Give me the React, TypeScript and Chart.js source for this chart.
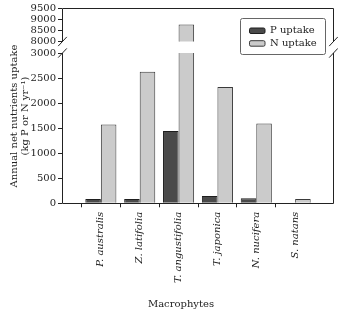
import React, { useEffect, useRef } from 'react';
import { Chart, registerables } from 'chart.js';

Chart.register(...registerables);

// Macrophyte species and their annual net uptake (kg P or N per year)
const species = ['P. australis', 'Z. latifolia', 'T. angustifolia', 'T. japonica', 'N. nucifera', 'S. natans'];
const pUptake = [85, 85, 1445, 145, 100, 0];
const nUptake = [1575, 2625, 8760, 2320, 1595, 85];

// Broken y-axis: lower and upper segments
const lowerRange = [0, 3000];
const upperRange = [8000, 9500];
const tickStep = 500;

const seriesNames = ['P uptake', 'N uptake'];
const xTitle = 'Macrophytes';
const yTitleLines = ['Annual net nutrients uptake', '(kg P or N yr\u207B\u00B9)'];

const W = 338;
const H = 309;
const FONT = '"DejaVu Serif", serif';
const INK = '#222';
const P_FILL = '#4a4a4a';
const P_EDGE = '#1e1e1e';
const N_FILL = '#cbcbcb';
const N_EDGE = '#3a3a3a';

// Category labels padded with an empty slot on each side so the axis spans -1..6
const paddedLabels = ['', ...species, ''];
const pad = (arr: (number | null)[]) => [null, ...arr, null];

function breakMark(ctx: CanvasRenderingContext2D, x: number, y: number) {
  ctx.beginPath();
  ctx.moveTo(x - 4.3, y + 4.6);
  ctx.lineTo(x + 4.3, y - 4.6);
  ctx.stroke();
}

function datasets(p: (number | null)[], n: (number | null)[]) {
  return [
    {
      label: seriesNames[0],
      data: pad(p),
      backgroundColor: P_FILL,
      borderColor: P_EDGE,
      borderWidth: 1,
      clip: 0,
    },
    {
      label: seriesNames[1],
      data: pad(n),
      backgroundColor: N_FILL,
      borderColor: N_EDGE,
      borderWidth: 1,
      clip: 0,
    },
  ];
}

const yAxisBase = (range: number[]) => ({
  min: range[0],
  max: range[1],
  ticks: {
    stepSize: tickStep,
    autoSkip: false,
    color: INK,
    font: { family: FONT, size: 10 },
    padding: 2,
    callback: (v: any) => String(v),
  },
  grid: { drawOnChartArea: false, tickLength: 4, tickColor: INK, lineWidth: 1 },
  border: { display: false },
  afterFit: (s: any) => {
    s.width = 62;
  },
});

const upperFrame = {
  id: 'upperFrame',
  afterDraw(chart: any) {
    const { ctx, chartArea: a } = chart;
    const l = Math.round(a.left) + 0.5;
    const r = Math.round(a.right) - 0.5;
    const t = Math.round(a.top) + 0.5;
    ctx.save();
    ctx.strokeStyle = INK;
    ctx.lineWidth = 1;
    ctx.beginPath();
    ctx.moveTo(l, a.bottom);
    ctx.lineTo(l, t);
    ctx.lineTo(r, t);
    ctx.lineTo(r, a.bottom);
    ctx.stroke();
    breakMark(ctx, l, a.bottom);
    breakMark(ctx, r, a.bottom);

    // legend
    const bx = a.right - 94;
    const by = a.top + 10;
    const bw = 85;
    const bh = 36;
    ctx.fillStyle = '#fff';
    ctx.strokeStyle = '#666';
    ctx.beginPath();
    ctx.roundRect(bx + 0.5, by + 0.5, bw, bh, 2);
    ctx.fill();
    ctx.stroke();
    const fills = [P_FILL, N_FILL];
    const edges = [P_EDGE, N_EDGE];
    ctx.font = `10px ${FONT}`;
    ctx.textBaseline = 'middle';
    ctx.textAlign = 'left';
    seriesNames.forEach((name, i) => {
      const cy = by + 12.5 + i * 12.7;
      ctx.fillStyle = fills[i];
      ctx.strokeStyle = edges[i];
      ctx.beginPath();
      ctx.roundRect(bx + 9.5, cy - 2.5, 15.5, 5.5, 1.5);
      ctx.fill();
      ctx.stroke();
      ctx.fillStyle = INK;
      ctx.fillText(name, bx + 30, cy);
    });
    ctx.restore();
  },
};

const lowerFrame = {
  id: 'lowerFrame',
  afterDraw(chart: any) {
    const { ctx, chartArea: a } = chart;
    const l = Math.round(a.left) + 0.5;
    const r = Math.round(a.right) - 0.5;
    const b = Math.round(a.bottom) + 0.5;
    ctx.save();
    ctx.strokeStyle = INK;
    ctx.lineWidth = 1;
    ctx.beginPath();
    ctx.moveTo(l, a.top);
    ctx.lineTo(l, b);
    ctx.lineTo(r, b);
    ctx.lineTo(r, a.top);
    ctx.stroke();
    breakMark(ctx, l, a.top);
    breakMark(ctx, r, a.top);

    // axis titles
    ctx.fillStyle = INK;
    ctx.font = `10px ${FONT}`;
    ctx.textAlign = 'center';
    ctx.textBaseline = 'middle';
    ctx.fillText(xTitle, 181, 304);
    ctx.translate(0, 116);
    ctx.rotate(-Math.PI / 2);
    ctx.fillText(yTitleLines[0], 0, 14);
    ctx.fillText(yTitleLines[1], 0, 25);
    ctx.restore();
  },
};

export default function App() {
  const upperRef = useRef<HTMLCanvasElement>(null);
  const lowerRef = useRef<HTMLCanvasElement>(null);

  useEffect(() => {
    const lastIdx = paddedLabels.length - 1;

    const lower = new Chart(lowerRef.current!, {
      type: 'bar',
      data: { labels: paddedLabels, datasets: datasets(pUptake, nUptake) as any },
      options: {
        responsive: false,
        animation: false,
        events: [],
        layout: { padding: { top: 53, right: 4, bottom: 0, left: 0 } },
        plugins: { legend: { display: false }, tooltip: { enabled: false } },
        datasets: { bar: { categoryPercentage: 0.8, barPercentage: 1 } },
        scales: {
          x: {
            type: 'category',
            offset: false,
            ticks: {
              autoSkip: false,
              minRotation: 90,
              maxRotation: 90,
              padding: 4.5,
              color: INK,
              font: { family: FONT, size: 10, style: 'italic' },
            },
            grid: {
              drawOnChartArea: false,
              tickLength: 4,
              tickColor: (c: any) => (c.index === 0 || c.index === lastIdx ? 'rgba(0,0,0,0)' : INK),
            },
            border: { display: false },
            afterFit: (s: any) => {
              s.height = H - 203.3;
              s.paddingLeft = 0;
              s.paddingRight = 0;
            },
          },
          y: yAxisBase(lowerRange) as any,
        },
      },
      plugins: [lowerFrame],
    });

    // Upper segment only shows values that reach into its range
    const inUpper = (arr: number[]) => arr.map((v) => (v >= upperRange[0] ? v : null));
    const upper = new Chart(upperRef.current!, {
      type: 'bar',
      data: { labels: paddedLabels, datasets: datasets(inUpper(pUptake), inUpper(nUptake)) as any },
      options: {
        responsive: false,
        animation: false,
        events: [],
        layout: { padding: { top: 7, right: 4, bottom: H - 41.5, left: 0 } },
        plugins: { legend: { display: false }, tooltip: { enabled: false } },
        datasets: { bar: { categoryPercentage: 0.8, barPercentage: 1 } },
        scales: {
          x: { type: 'category', offset: false, display: false },
          y: yAxisBase(upperRange) as any,
        },
      },
      plugins: [upperFrame],
    });

    return () => {
      upper.destroy();
      lower.destroy();
    };
  }, []);

  const canvasStyle: React.CSSProperties = {
    position: 'absolute',
    left: 0,
    top: 0,
    width: W,
    height: H,
  };

  return (
    <div style={{ position: 'fixed', left: 0, top: 0, width: W, height: H, background: '#fff' }}>
      <canvas ref={lowerRef} width={W} height={H} style={canvasStyle} />
      <canvas ref={upperRef} width={W} height={H} style={{ ...canvasStyle, pointerEvents: 'none' }} />
    </div>
  );
}
